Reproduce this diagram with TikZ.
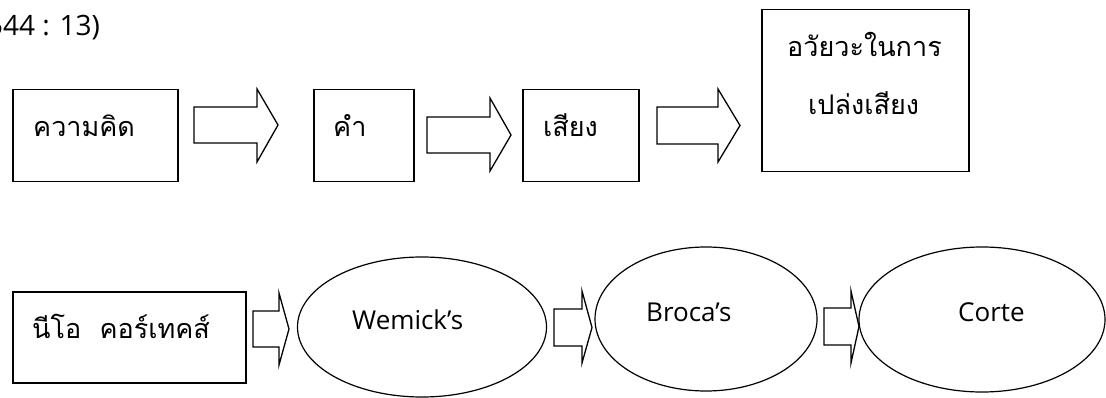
\documentclass[tikz,border=0pt]{standalone}
\usepackage{fontspec}
\usetikzlibrary{shapes.geometric}
\newfontfamily\thaifont[Script=Thai]{Loma}
\newfontfamily\latinfont{Open Sans}
\tikzset{
  box/.style={draw, line width=1.5pt, rectangle, inner sep=0pt, anchor=north west},
  oval/.style={draw, line width=1.2pt, ellipse, inner sep=0pt},
  barrow/.style={draw, line width=1.3pt, line join=miter, fill=white},
  thaitext/.style={inner sep=0pt, anchor=base west, font=\thaifont\fontsize{27}{32}\selectfont},
  lattext/.style={inner sep=0pt, anchor=base west, font=\latinfont\fontsize{26}{32}\selectfont},
}
\newcommand{\blockarr}[7]{% x0 xb xt ytop ybot htop hbot
  \draw[barrow] (#1,#4) -- (#2,#4) -- (#2,#6) -- (#3,{(#4+#5)/2}) -- (#2,#7) -- (#2,#5) -- (#1,#5) -- cycle;}
\begin{document}
\begin{tikzpicture}[x=1pt,y=-1pt]
\useasboundingbox (0,0) rectangle (1106,398);
% citation
\node[inner sep=0pt, anchor=base east, font=\latinfont\fontsize{28}{32}\selectfont] (cite) at (100,36) {544 : 13)};
% top row boxes
\node[box, minimum width=165pt, minimum height=92pt] (b1) at (12,89) {};
\node[box, minimum width=100pt, minimum height=92pt] (b2) at (313,89) {};
\node[box, minimum width=116pt, minimum height=92pt] (b3) at (522,89) {};
\node[box, minimum width=207pt, minimum height=162pt] (b4) at (761,9) {};
\node[thaitext] (t1) at (33,137) {ความคิด};
\node[thaitext] (t2) at (333,137) {คำ};
\node[thaitext] (t3) at (543,137) {เสียง};
\node[thaitext] (t4a) at (787,57) {อวัยวะในการ};
\node[thaitext] (t4b) at (808,115) {เปล่งเสียง};
% top row arrows
\blockarr{194}{257}{278}{107}{143}{89}{162}
\blockarr{427}{490}{511}{117}{153}{98}{171}
\blockarr{657}{718}{740}{107}{144}{89}{162}
% bottom row
\node[box, minimum width=233pt, minimum height=91pt] (b5) at (12,291) {};
\node[thaitext] (t5) at (32,338) {นีโอ\ \ คอร์เทคส์};
\node[oval, minimum width=249pt, minimum height=140pt] (e1) at (422,327) {};
\node[oval, minimum width=222pt, minimum height=144pt] (e2) at (706,319) {};
\node[oval, minimum width=246pt, minimum height=145pt] (e3) at (982,319.5) {};
\node[lattext] (l1) at (352,329) {Wemick’s};
\node[lattext] (l2) at (646,321) {Broca’s};
\node[lattext] (l3) at (958,321) {Corte};
\blockarr{253}{279}{289}{311}{347}{293}{365}
\blockarr{554}{582}{592}{309}{346}{291}{363}
\blockarr{824}{851}{859}{308}{345}{291}{363}
\end{tikzpicture}
\end{document}
